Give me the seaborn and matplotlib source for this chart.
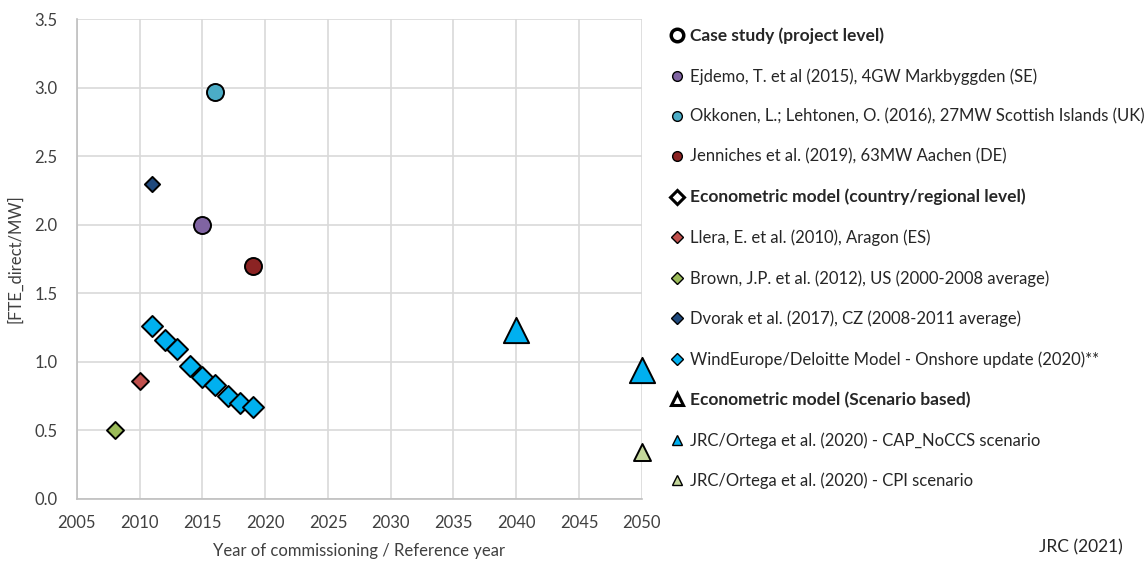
import seaborn as sns
import matplotlib.pyplot as plt
from matplotlib.lines import Line2D

# Data
ejdemo_x, ejdemo_y = [2015], [2.0]
okkonen_x, okkonen_y = [2016], [2.97]
jenniches_x, jenniches_y = [2019], [1.70]
llera_x, llera_y = [2010], [0.86]
brown_x, brown_y = [2008], [0.50]
dvorak_x, dvorak_y = [2011], [2.30]
windeurope_x = [2011, 2012, 2013, 2014, 2015, 2016, 2017, 2018, 2019]
windeurope_y = [1.26, 1.16, 1.09, 0.97, 0.89, 0.83, 0.75, 0.70, 0.67]
capnoccs_x, capnoccs_y = [2040, 2050], [1.23, 0.94]
cpi_x, cpi_y = [2050], [0.34]

labels = [
    "Case study (project level)",
    "Ejdemo, T. et al (2015), 4GW Markbyggden (SE)",
    "Okkonen, L.; Lehtonen, O. (2016), 27MW Scottish Islands (UK)",
    "Jenniches et al. (2019), 63MW Aachen (DE)",
    "Econometric model (country/regional level)",
    "Llera, E. et al. (2010), Aragon (ES)",
    "Brown, J.P. et al. (2012), US (2000-2008 average)",
    "Dvorak et al. (2017), CZ (2008-2011 average)",
    "WindEurope/Deloitte Model - Onshore update (2020)**",
    "Econometric model (Scenario based)",
    "JRC/Ortega et al. (2020) - CAP_NoCCS scenario",
    "JRC/Ortega et al. (2020) - CPI scenario",
]

sns.set_style("white")
plt.rcParams['font.family'] = ['Lato', 'DejaVu Sans']

fig = plt.figure(figsize=(11.48, 5.63), dpi=100)
ax = fig.add_axes([0.067, 0.114, 0.492, 0.852])

series = [
    (ejdemo_x, ejdemo_y, 'o', 150, '#8064A2'),
    (okkonen_x, okkonen_y, 'o', 150, '#4BACC6'),
    (jenniches_x, jenniches_y, 'o', 150, '#8B2323'),
    (llera_x, llera_y, 'D', 75, '#C0504D'),
    (brown_x, brown_y, 'D', 75, '#9BBB59'),
    (dvorak_x, dvorak_y, 'D', 60, '#1F497D'),
    (windeurope_x, windeurope_y, 'D', 115, '#00B0F0'),
    (capnoccs_x, capnoccs_y, '^', 330, '#00B0F0'),
    (cpi_x, cpi_y, '^', 150, '#C4D79B'),
]
for xs, ys, m, s, c in series:
    sns.scatterplot(x=xs, y=ys, marker=m, s=s, color=c, edgecolor='black',
                    linewidth=1.4, ax=ax, zorder=3, clip_on=False)

ax.set_xlim(2005, 2050)
ax.set_ylim(0, 3.5)
ax.set_xticks(range(2005, 2051, 5))
ax.set_yticks([0, 0.5, 1.0, 1.5, 2.0, 2.5, 3.0, 3.5])
ax.set_yticklabels(['0.0', '0.5', '1.0', '1.5', '2.0', '2.5', '3.0', '3.5'])
ax.grid(True, color='#D9D9D9', linewidth=1.2)
ax.set_axisbelow(True)
for side in ['top', 'right']:
    ax.spines[side].set_visible(False)
for side in ['left', 'bottom']:
    ax.spines[side].set_color('#BFBFBF')
    ax.spines[side].set_linewidth(1.2)
ax.tick_params(axis='both', labelsize=12, colors='#404040', length=0)
ax.tick_params(axis='x', pad=12)
ax.tick_params(axis='y', pad=14)
ax.set_xlabel('Year of commissioning / Reference year', fontsize=12, color='#404040', labelpad=8)
ax.set_ylabel('[FTE_direct/MW]', fontsize=12, color='#404040', labelpad=8)

def handle(marker, color, size, ew=1.0):
    return Line2D([], [], linestyle='none', marker=marker, markersize=size,
                  markerfacecolor=color, markeredgecolor='black', markeredgewidth=ew)

handles = [
    handle('o', 'white', 9, 2.5),
    handle('o', '#8064A2', 7),
    handle('o', '#4BACC6', 7),
    handle('o', '#8B2323', 7),
    handle('D', 'white', 7, 2.2),
    handle('D', '#C0504D', 6),
    handle('D', '#9BBB59', 6),
    handle('D', '#1F497D', 6),
    handle('D', '#00B0F0', 6),
    handle('^', 'white', 9, 2.2),
    handle('^', '#00B0F0', 7),
    handle('^', '#C4D79B', 7),
]
leg = fig.legend(handles, labels, loc='upper left', bbox_to_anchor=(0.578, 0.963),
                 frameon=False, fontsize=12, labelspacing=1.44, handlelength=0.8,
                 handletextpad=0.4, borderaxespad=0)
for i in (0, 4, 9):
    leg.get_texts()[i].set_fontweight('bold')
    leg.get_texts()[i].set_fontsize(12.5)

fig.text(0.978, 0.018, 'JRC (2021)', fontsize=12.5, color='#262626', ha='right')

plt.savefig('out.png', dpi=100)
